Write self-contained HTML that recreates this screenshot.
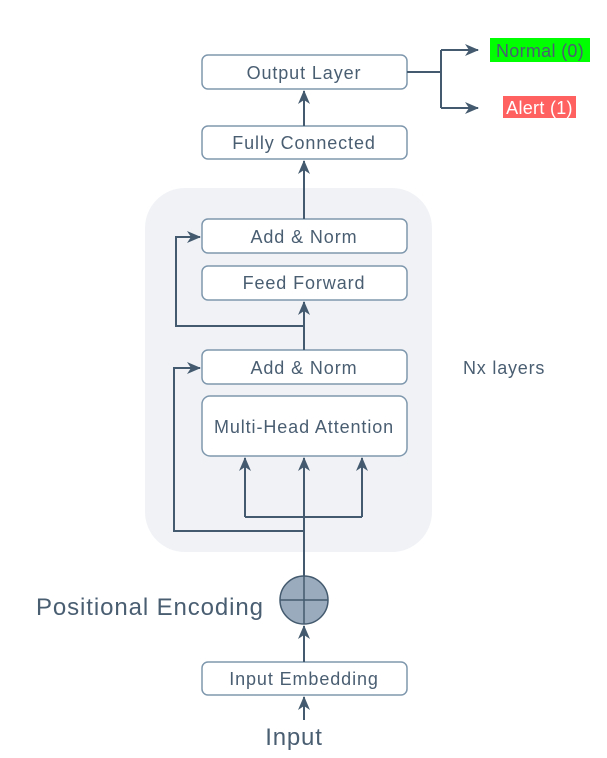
<!DOCTYPE html>
<html><head><meta charset="utf-8"><style>body{margin:0;background:#fff}svg{display:block}text{font-family:"Liberation Sans",sans-serif;fill:#4a5e72}</style></head><body>
<svg width="607" height="758" viewBox="0 0 607 758">
<defs><marker id="a" markerWidth="14" markerHeight="14" refX="13" refY="7" orient="auto" markerUnits="userSpaceOnUse"><path d="M0,1 L14,7 L0,13 L4,7 Z" fill="#445a6e"/></marker></defs>
<rect x="145" y="188" width="287" height="364" rx="40" fill="#f0f2f6"/>
<g fill="#fff" stroke="#7f98ad" stroke-width="1.5">
<rect x="202" y="55" width="205" height="34" rx="6"/>
<rect x="202" y="126" width="205" height="33" rx="6"/>
<rect x="202" y="219" width="205" height="34" rx="6"/>
<rect x="202" y="266" width="205" height="34" rx="6"/>
<rect x="202" y="350" width="205" height="34" rx="6"/>
<rect x="202" y="396" width="205" height="60" rx="8"/>
<rect x="202" y="662" width="205" height="33" rx="6"/>
</g>
<g stroke="#445a6e" stroke-width="2" fill="none">
<path d="M304,576 V458" marker-end="url(#a)"/>
<path d="M245,517 H362"/>
<path d="M245,517 V458" marker-end="url(#a)"/>
<path d="M362,517 V458" marker-end="url(#a)"/>
<path d="M304,531 H174 V368 H200" marker-end="url(#a)"/>
<path d="M304,350 V302" marker-end="url(#a)"/>
<path d="M304,326 H176 V237 H200" marker-end="url(#a)"/>
<path d="M304,219 V161" marker-end="url(#a)"/>
<path d="M304,126 V91" marker-end="url(#a)"/>
<path d="M407,72 H441"/>
<path d="M441,50 V108"/>
<path d="M441,50 H478" marker-end="url(#a)"/>
<path d="M441,108 H478" marker-end="url(#a)"/>
<path d="M304,662 V626" marker-end="url(#a)"/>
<path d="M304,720 V697" marker-end="url(#a)"/>
</g>
<circle cx="304" cy="600" r="24" fill="#9aabbd" stroke="#445a6e" stroke-width="1.5"/>
<path d="M304,576 V624 M280,600 H328" stroke="#445a6e" stroke-width="1.5"/>
<g font-size="18" text-anchor="middle" letter-spacing="0.9">
<text x="304" y="79">Output Layer</text>
<text x="304" y="149">Fully Connected</text>
<text x="304" y="243">Add &amp; Norm</text>
<text x="304" y="289">Feed Forward</text>
<text x="304" y="374">Add &amp; Norm</text>
<text x="304" y="433">Multi-Head Attention</text>
<text x="304" y="685">Input Embedding</text>
</g>
<text x="463" y="374" font-size="18" letter-spacing="0.8">Nx layers</text>
<text x="36" y="615" font-size="24" letter-spacing="0.9">Positional Encoding</text>
<text x="294" y="745" font-size="24" text-anchor="middle" letter-spacing="0.8">Input</text>
<rect x="490" y="38" width="100" height="24" fill="#00ff00"/>
<text x="540" y="57" font-size="18" text-anchor="middle" letter-spacing="0.3">Normal (0)</text>
<rect x="503" y="96" width="73" height="22" fill="#ff6060"/>
<text x="539.5" y="114" font-size="18" text-anchor="middle" letter-spacing="0.3" style="fill:#fff">Alert (1)</text>
</svg>
</body></html>
